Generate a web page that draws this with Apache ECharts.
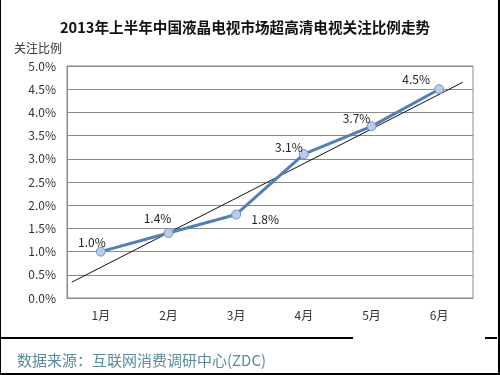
<!DOCTYPE html>
<html>
<head>
<meta charset="utf-8">
<script src="https://cdn.jsdelivr.net/npm/echarts@6/dist/echarts.min.js"></script>
<style>
html,body{margin:0;padding:0;background:#fff;}
#c{width:500px;height:375px;}
</style>
</head>
<body>
<div id="c"></div>
<script>
var titleText = '2013年上半年中国液晶电视市场超高清电视关注比例走势';
var yAxisName = '关注比例';
var sourceText = '数据来源：互联网消费调研中心(ZDC)';
var categories = ['1月','2月','3月','4月','5月','6月'];
var values = [1.0, 1.4, 1.8, 3.1, 3.7, 4.5];
var trendX = [0.57, 6.35];
var trendY = [0.34, 4.65];

var labelOffsets = [[-9,-9],[-11,-15],[29,5],[-15,-7],[-15,-8],[-23,-10]];
var font = '"Noto Sans CJK SC", "Noto Sans", sans-serif';

var chart = echarts.init(document.getElementById('c'), null, {renderer:'canvas'});
var lineData = values.map(function(v,i){
  return {value:v, label:{offset:labelOffsets[i]}};
});
var trendData = trendX.map(function(x,i){ return [x, trendY[i]]; });

chart.setOption({
  animation:false,
  backgroundColor:'#fff',
  title:{
    text:titleText, left:55, top:15,
    textStyle:{fontSize:14.6, fontWeight:'bold', color:'#111', fontFamily:font}
  },
  grid:{left:67, right:27, top:66, bottom:77, show:true, borderColor:'#8a8a8a', borderWidth:1, backgroundColor:'transparent'},
  xAxis:[{
    type:'category', data:categories, boundaryGap:true,
    axisLine:{lineStyle:{color:'#8a8a8a', width:1}},
    axisTick:{inside:true, length:5, lineStyle:{color:'#8a8a8a'}},
    axisLabel:{color:'#333', fontSize:12, fontFamily:font, margin:11}
  },{
    type:'value', min:0.5, max:6.5, show:false
  }],
  yAxis:{
    type:'value', min:0, max:5, interval:0.5,
    name:yAxisName,
    nameLocation:'end', nameGap:12,
    nameTextStyle:{color:'#333', fontSize:12, fontFamily:font, align:'right', padding:[0,5,0,0]},
    axisLine:{show:true, lineStyle:{color:'#8a8a8a'}},
    axisTick:{show:false},
    splitLine:{lineStyle:{color:'#8a8a8a', width:1}},
    axisLabel:{color:'#333', fontSize:12, fontFamily:font, margin:11,
      formatter:function(v){return v.toFixed(1)+'%';}}
  },
  series:[{
    type:'line', xAxisIndex:1, data:trendData,
    symbol:'none', silent:true,
    lineStyle:{color:'#111', width:1}, z:3
  },{
    type:'line', data:lineData,
    symbol:'circle', symbolSize:9,
    lineStyle:{color:'#4f7fbd', width:3},
    itemStyle:{color:'#b9cde8', borderColor:'#6f93c6', borderWidth:1},
    label:{show:true, position:'inside', color:'#222', fontSize:12, fontFamily:font,
      formatter:function(p){return p.value.toFixed(1)+'%';}},
    z:4
  }],
  graphic:[
    {type:'rect', shape:{x:0,y:-2,width:499,height:376}, style:{fill:'none', stroke:'#000', lineWidth:2}, silent:true},
    {type:'line', shape:{x1:0,y1:338,x2:353,y2:338}, style:{stroke:'#000', lineWidth:2}},
    {type:'line', shape:{x1:485,y1:338,x2:497,y2:338}, style:{stroke:'#000', lineWidth:2}},
    {type:'text', left:17, top:353, style:{text:sourceText, fill:'#5a8c9c', font:'15px "Noto Sans CJK SC", sans-serif'}}
  ]
});
</script>
</body>
</html>
